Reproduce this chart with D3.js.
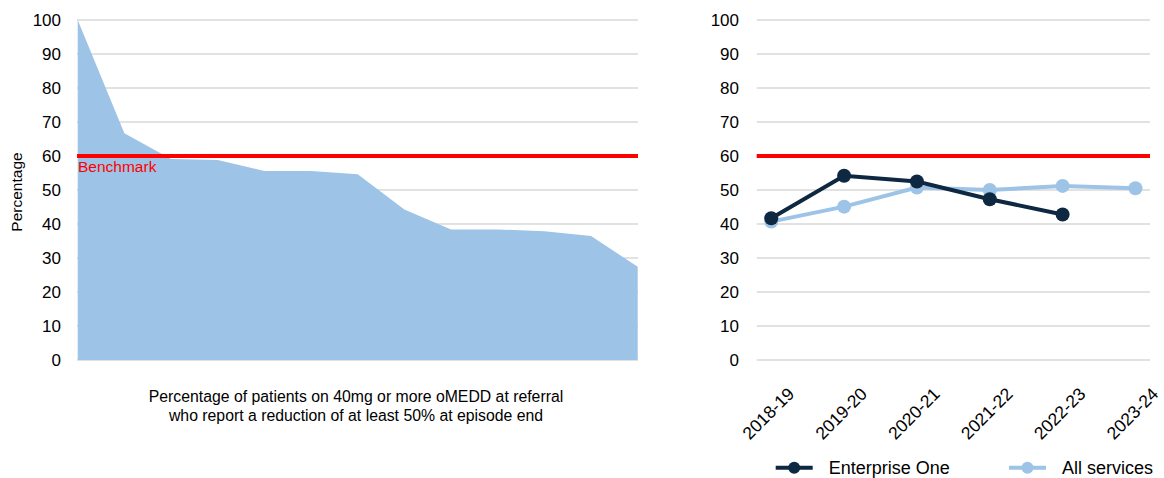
<!DOCTYPE html>
<html>
<head>
<meta charset="utf-8">
<script src="https://d3js.org/d3.v7.min.js"></script>
<style>
body { margin: 0; background: #fff; }
text { font-family: "Liberation Sans", Arial, sans-serif; }
</style>
</head>
<body>
<div id="chart"></div>
<script>
//data

var services = d3.range(1, 14)
var serviceValues = [100, 66.7, 59.1, 58.8, 55.6, 55.6, 54.6, 44.3, 38.4, 38.4, 37.9, 36.5, 27.4]

var years = ["2018-19", "2019-20", "2020-21", "2021-22", "2022-23", "2023-24"]
var enterpriseOne = [41.7, 54.2, 52.5, 47.3, 42.8, null]
var allServices = [40.7, 45.1, 50.7, 50.0, 51.2, 50.5]

var yTicks = [0, 10, 20, 30, 40, 50, 60, 70, 80, 90, 100]
var benchmark = 60

var w = 1164
var h = 478

var svg = d3.select("#chart")
    .append("svg")
    .attr("width", w)
    .attr("height", h)

var y = d3.scaleLinear()
    .domain([0, 100])
    .range([360, 20])

var grey = "#d9d9d9"
var lightBlue = "#9dc3e6"
var navy = "#0e2841"

//grid + y labels for a panel

function drawGrid(x0, x1, labelX){
    svg.selectAll(null)
        .data(yTicks)
        .enter()
        .append("line")
        .attr("x1", x0)
        .attr("x2", x1)
        .attr("y1", function(d){ return y(d) })
        .attr("y2", function(d){ return y(d) })
        .attr("stroke", grey)
        .attr("stroke-width", 1.5)

    svg.selectAll(null)
        .data(yTicks)
        .enter()
        .append("text")
        .attr("x", labelX)
        .attr("y", function(d){ return y(d) + 6 })
        .attr("text-anchor", "end")
        .attr("font-size", 17)
        .attr("fill", "#000")
        .text(function(d){ return d })
}

//left panel: area

var xLeft = d3.scaleLinear()
    .domain([1, 13])
    .range([77.7, 637.7])

drawGrid(77, 638, 61)

var area = d3.area()
    .x(function(d, i){ return xLeft(services[i]) })
    .y0(y(0))
    .y1(function(d){ return y(d) })

svg.append("path")
    .attr("d", area(serviceValues))
    .attr("fill", lightBlue)

svg.append("line")
    .attr("x1", 77)
    .attr("x2", 638)
    .attr("y1", y(benchmark))
    .attr("y2", y(benchmark))
    .attr("stroke", "#ff0000")
    .attr("stroke-width", 4)

svg.append("text")
    .attr("x", 78)
    .attr("y", y(benchmark) + 16)
    .attr("font-size", 15.5)
    .attr("fill", "#ff0000")
    .text("Benchmark")

svg.append("text")
    .attr("transform", "translate(22,192) rotate(-90)")
    .attr("text-anchor", "middle")
    .attr("font-size", 15.5)
    .attr("fill", "#000")
    .text("Percentage")

svg.append("text")
    .attr("x", 356)
    .attr("y", 402)
    .attr("text-anchor", "middle")
    .attr("font-size", 15.8)
    .attr("fill", "#000")
    .text("Percentage of patients on 40mg or more oMEDD at referral")

svg.append("text")
    .attr("x", 356)
    .attr("y", 421)
    .attr("text-anchor", "middle")
    .attr("font-size", 15.8)
    .attr("fill", "#000")
    .text("who report a reduction of at least 50% at episode end")

//right panel: lines

var xRight = d3.scalePoint()
    .domain(years)
    .range([756.7, 1150])
    .padding(0.2)

drawGrid(756.7, 1150, 739)

svg.append("line")
    .attr("x1", 756.7)
    .attr("x2", 1150)
    .attr("y1", y(benchmark))
    .attr("y2", y(benchmark))
    .attr("stroke", "#ff0000")
    .attr("stroke-width", 4)

function drawSeries(vals, color){
    var line = d3.line()
        .defined(function(d){ return d != null })
        .x(function(d, i){ return xRight(years[i]) })
        .y(function(d){ return y(d) })

    svg.append("path")
        .attr("d", line(vals))
        .attr("fill", "none")
        .attr("stroke", color)
        .attr("stroke-width", 4)

    svg.selectAll(null)
        .data(vals.map(function(d, i){ return {v: d, yr: years[i]} }).filter(function(d){ return d.v != null }))
        .enter()
        .append("circle")
        .attr("cx", function(d){ return xRight(d.yr) })
        .attr("cy", function(d){ return y(d.v) })
        .attr("r", 7)
        .attr("fill", color)
}

drawSeries(allServices, lightBlue)
drawSeries(enterpriseOne, navy)

svg.selectAll(null)
    .data(years)
    .enter()
    .append("text")
    .attr("transform", function(d){ return "translate(" + (xRight(d) + 24) + ",395) rotate(-45)" })
    .attr("text-anchor", "end")
    .attr("font-size", 17.5)
    .attr("fill", "#000")
    .text(function(d){ return d })

//legend

var legend = [
    {name: "Enterprise One", color: navy, x: 775.7},
    {name: "All services", color: lightBlue, x: 1009}
]

legend.forEach(function(l){
    svg.append("line")
        .attr("x1", l.x)
        .attr("x2", l.x + 37)
        .attr("y1", 467.7)
        .attr("y2", 467.7)
        .attr("stroke", l.color)
        .attr("stroke-width", 4)
    svg.append("circle")
        .attr("cx", l.x + 18.5)
        .attr("cy", 467.7)
        .attr("r", 6)
        .attr("fill", l.color)
    svg.append("text")
        .attr("x", l.x + 53)
        .attr("y", 474)
        .attr("font-size", 18)
        .attr("fill", "#000")
        .text(l.name)
})
</script>
</body>
</html>
